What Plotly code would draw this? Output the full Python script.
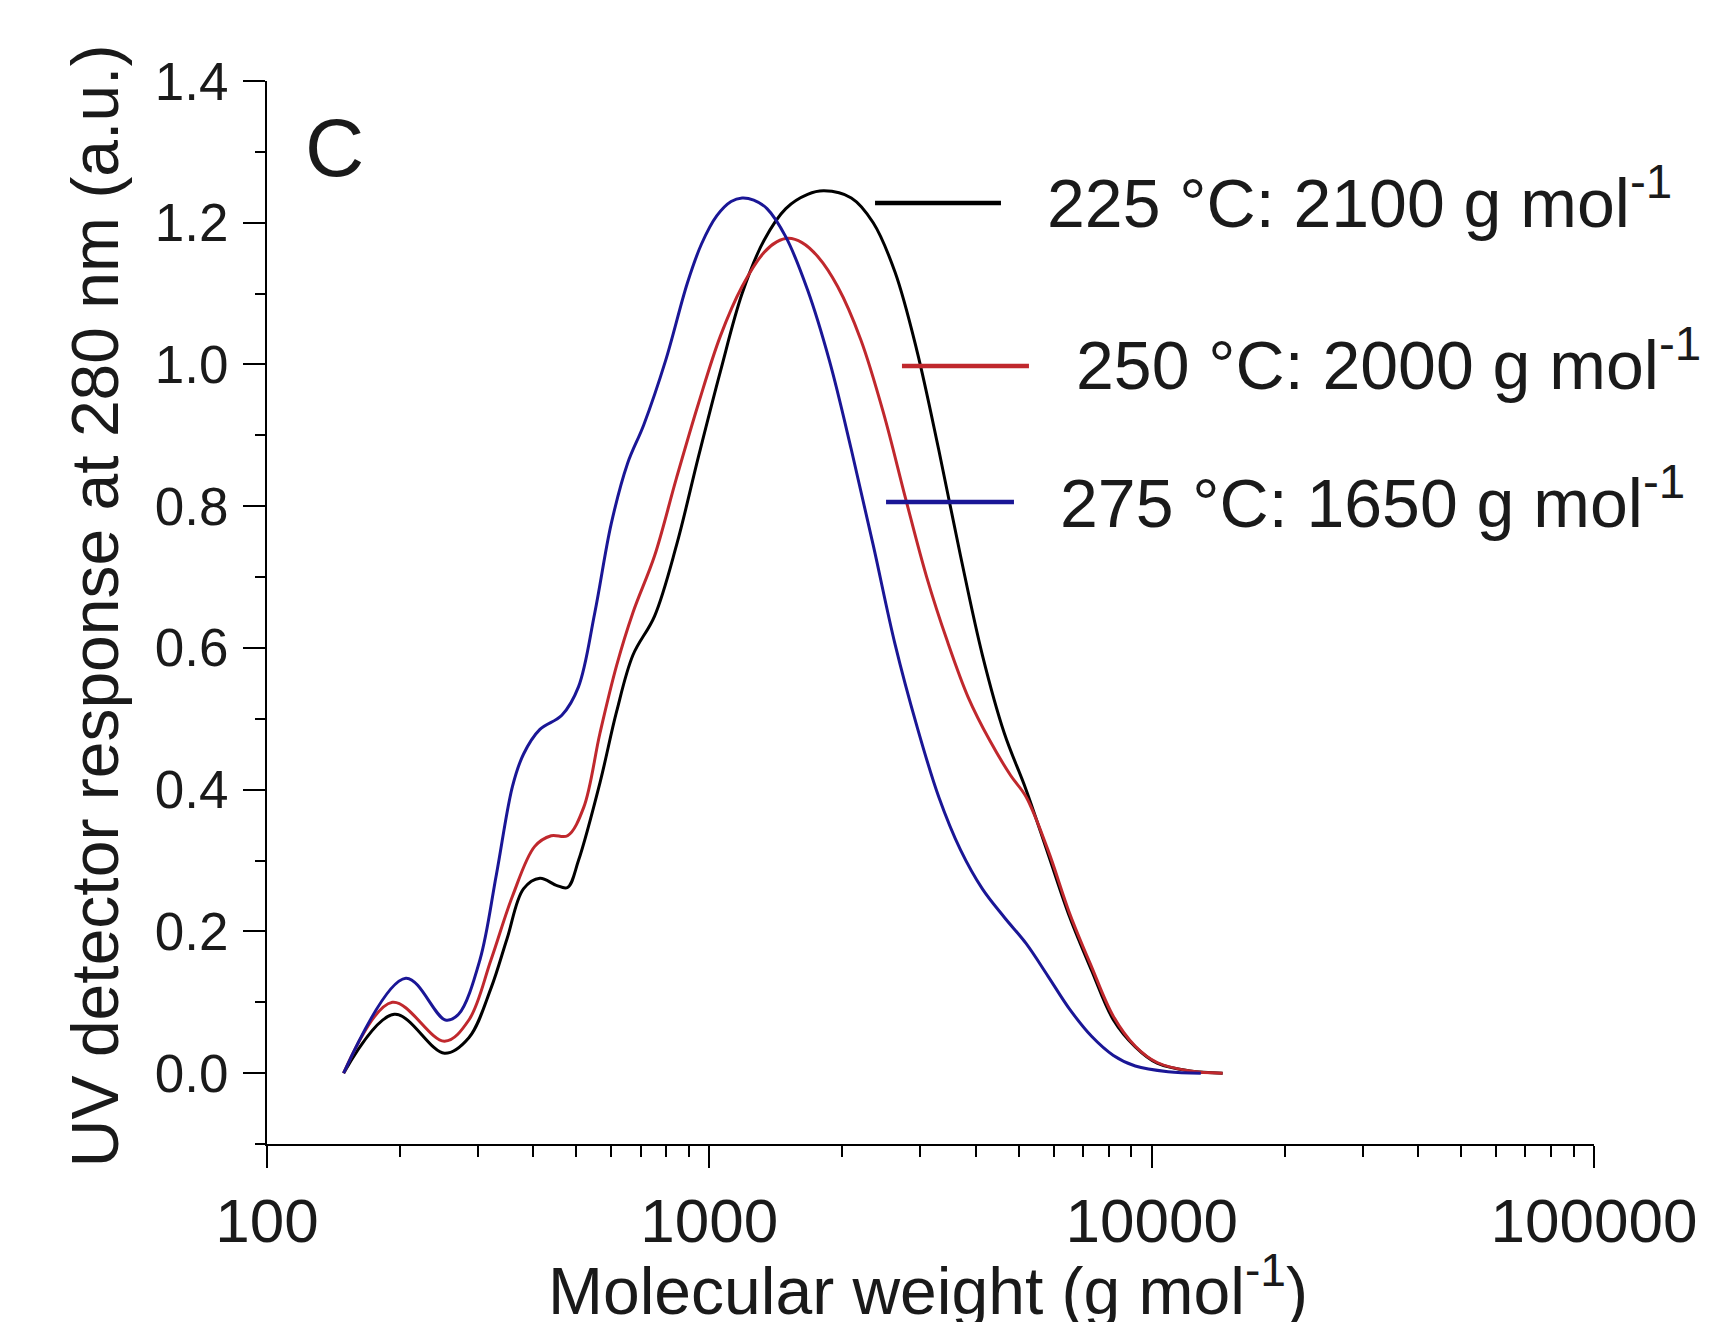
import plotly.graph_objects as go

# ---------------- data ----------------
mw_225 = [149, 194, 252, 286, 321, 349, 380, 414, 451, 478, 506, 566, 617, 672, 752, 843, 945, 1059,
          1186, 1329, 1489, 1668, 1817, 2094, 2347, 2630, 2945, 3300, 3697, 4143, 4642, 5200, 5827,
          6529, 7314, 8195, 9183, 10287, 12201, 14470]
uv_225 = [0.0, 0.083, 0.028, 0.05, 0.12, 0.19, 0.26, 0.275, 0.265, 0.262, 0.30, 0.41, 0.51, 0.59,
          0.645, 0.745, 0.87, 0.99, 1.10, 1.175, 1.22, 1.24, 1.245, 1.235, 1.20, 1.13, 1.02, 0.88,
          0.73, 0.59, 0.48, 0.40, 0.31, 0.22, 0.145, 0.075, 0.037, 0.014, 0.003, 0.0]

mw_250 = [149, 192, 252, 286, 321, 359, 403, 439, 478, 520, 566, 617, 672, 752, 843, 945, 1059,
          1186, 1329, 1420, 1510, 1620, 1760, 1950, 2200, 2480, 2780, 3100, 3450, 3850, 4300, 4800,
          5200, 5827, 6529, 7314, 8195, 9183, 10287, 12201, 14470]
uv_250 = [0.0, 0.10, 0.045, 0.075, 0.16, 0.25, 0.32, 0.335, 0.335, 0.375, 0.48, 0.575, 0.65, 0.73,
          0.84, 0.945, 1.04, 1.11, 1.158, 1.173, 1.178, 1.172, 1.152, 1.11, 1.035, 0.93, 0.81, 0.70,
          0.61, 0.53, 0.47, 0.42, 0.39, 0.315, 0.225, 0.15, 0.08, 0.038, 0.015, 0.003, 0.0]

mw_275 = [149, 206, 253, 271, 303, 330, 359, 380, 414, 464, 506, 551, 600, 653, 711, 796, 892, 960,
          1040, 1120, 1186, 1260, 1350, 1489, 1668, 1869, 2094, 2347, 2630, 2945, 3300, 3697, 4143,
          4642, 5200, 5827, 6529, 7314, 8195, 9183, 10890, 12915]
uv_275 = [0.0, 0.134, 0.075, 0.083, 0.16, 0.28, 0.405, 0.45, 0.485, 0.505, 0.545, 0.65, 0.775, 0.86,
          0.915, 1.005, 1.115, 1.17, 1.21, 1.23, 1.235, 1.232, 1.22, 1.18, 1.105, 1.005, 0.88, 0.745,
          0.605, 0.49, 0.39, 0.315, 0.26, 0.22, 0.183, 0.137, 0.09, 0.052, 0.025, 0.01, 0.002, 0.0]

series_names = ["225 °C: 2100 g mol<sup>-1</sup>",
                "250 °C: 2000 g mol<sup>-1</sup>",
                "275 °C: 1650 g mol<sup>-1</sup>"]
series_colors = ["#000000", "#C0282D", "#1A1696"]

x_tickvals = [100, 1000, 10000, 100000]
x_ticktext = ["100", "1000", "10000", "100000"]
y_tickvals = [0.0, 0.2, 0.4, 0.6, 0.8, 1.0, 1.2, 1.4]

# ---------------- figure ----------------
FONT = "Liberation Sans, Arial, sans-serif"
TXT = "#1a1a1a"
fig = go.Figure()
for mw, uv, name, col in zip([mw_225, mw_250, mw_275], [uv_225, uv_250, uv_275],
                             series_names, series_colors):
    fig.add_trace(go.Scatter(x=mw, y=uv, mode="lines", name=name,
                             line=dict(color=col, width=3, shape="spline", smoothing=1.0),
                             showlegend=False, hoverinfo="skip"))

minor_x = [m * 10 ** e for e in (2, 3, 4) for m in range(2, 10)]

fig.update_layout(
    width=1712, height=1322,
    margin=dict(l=267, r=118, t=81, b=178, autoexpand=False),
    paper_bgcolor="white", plot_bgcolor="white",
    font=dict(family=FONT, color=TXT),
    xaxis=dict(type="log", range=[2, 5], showgrid=False, zeroline=False, automargin=False,
               showline=True, linecolor="black", linewidth=2,
               ticks="outside", ticklen=22, tickwidth=2, tickcolor="black",
               tickvals=x_tickvals, ticktext=x_ticktext,
               tickfont=dict(size=62, family=FONT, color=TXT),
               minor=dict(tickvals=minor_x, ticks="outside", ticklen=11, tickwidth=2,
                          tickcolor="black", showgrid=False)),
    yaxis=dict(range=[-0.1, 1.4], showgrid=False, zeroline=False, automargin=False,
               showline=True, linecolor="black", linewidth=2,
               ticks="outside", ticklen=22, tickwidth=2, tickcolor="black",
               tickvals=y_tickvals, tickformat=".1f", ticklabelstandoff=4,
               tickfont=dict(size=53, family=FONT, color=TXT),
               minor=dict(dtick=0.1, tick0=0, ticks="outside", ticklen=10, tickwidth=2,
                          tickcolor="black", showgrid=False)),
)

# axis titles
fig.add_annotation(text="UV detector response at 280 nm (a.u.)", xref="paper", yref="paper",
                   x=-0.1296, y=0.506, textangle=-90, showarrow=False,
                   xanchor="center", yanchor="middle",
                   font=dict(size=66, family=FONT, color=TXT))
fig.add_annotation(text="Molecular weight (g mol<sup>-1</sup>)", xref="paper", yref="paper",
                   x=0.498, y=-0.175, showarrow=False, xanchor="center", yanchor="bottom",
                   font=dict(size=66, family=FONT, color=TXT))

# panel label
fig.add_annotation(text="C", xref="paper", yref="paper", x=0.0505, y=0.937, showarrow=False,
                   xanchor="center", yanchor="middle",
                   font=dict(size=82, family=FONT, color=TXT))

# manual legend (line sample + label)
leg_lines = [(0.4582, 0.5531, 0.8852), (0.4785, 0.5742, 0.7319), (0.4665, 0.5629, 0.6040)]
leg_text_x = [0.5863, 0.6081, 0.5961]
leg_text_y = [0.8476, 0.6952, 0.5654]
for (x0, x1, yy), tx, ty, name, col in zip(leg_lines, leg_text_x, leg_text_y,
                                           series_names, series_colors):
    fig.add_shape(type="line", xref="paper", yref="paper", x0=x0, x1=x1, y0=yy, y1=yy,
                  line=dict(color=col, width=4.5))
    fig.add_annotation(text=name, xref="paper", yref="paper", x=tx, y=ty, showarrow=False,
                       xanchor="left", yanchor="bottom",
                       font=dict(size=68, family=FONT, color=TXT))

# remove the browser's default 8px page margin so the figure sits at the window origin
fig.write_html("out.html",
               config={"displayModeBar": False, "staticPlot": True},
               post_script="document.body.style.margin='0px';"
                           "document.body.style.overflow='hidden';")
